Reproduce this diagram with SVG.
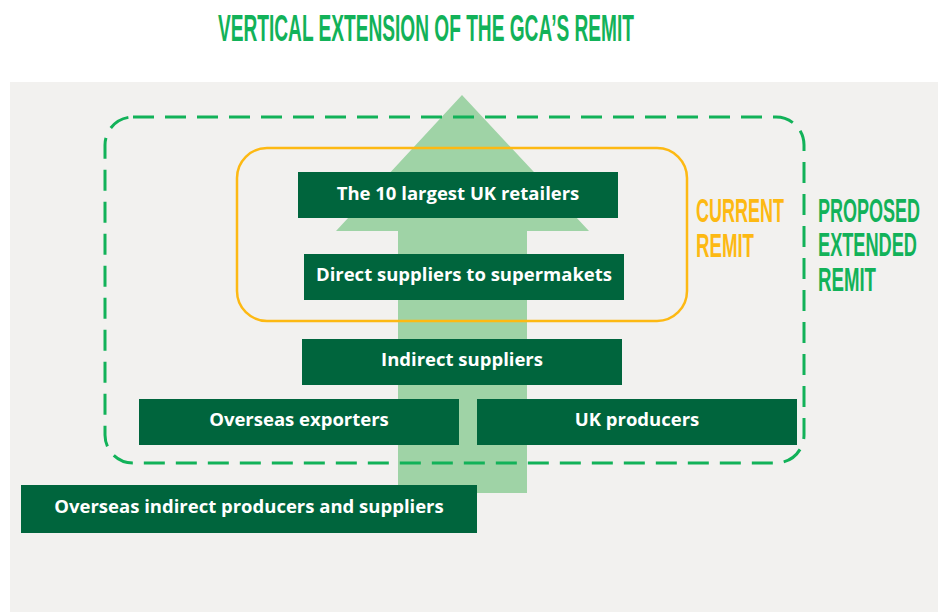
<svg xmlns="http://www.w3.org/2000/svg" width="942" height="612" viewBox="0 0 942 612">
  <style>
    .node rect { fill: #00653d; }
    .node text { fill: #ffffff; font-family: "Open Sans", "Noto Sans", sans-serif; font-weight: 700; font-size: 18.5px; text-anchor: middle; }
    .head { font-family: "Liberation Sans", "Roboto", sans-serif; font-weight: 700; }
    .cur { fill: #fdb913; font-size: 34px; }
    .prop { fill: #12b259; font-size: 34px; }
  </style>
  <rect width="942" height="612" fill="#ffffff"/>
  <!-- panel -->
  <rect x="10" y="82" width="928" height="530" fill="#f2f1ef"/>

  <!-- title -->
  <text class="head" x="218" y="41" font-size="36" fill="#12b259" textLength="416" lengthAdjust="spacingAndGlyphs">VERTICAL EXTENSION OF THE GCA’S REMIT</text>

  <!-- big upward arrow -->
  <polygon points="462,95 589,231 527,231 527,493 398,493 398,231 336,231" fill="#9fd3a6"/>

  <!-- remit outlines -->
  <g id="connectors">
    <rect x="105" y="117" width="699" height="346" rx="28" fill="none" stroke="#12b259" stroke-width="3" stroke-dasharray="21 11"/>
    <rect x="237" y="148" width="450" height="173" rx="30" fill="none" stroke="#fdb913" stroke-width="2.5"/>
  </g>

  <!-- remit labels -->
  <text class="head cur" x="696" y="222" textLength="88" lengthAdjust="spacingAndGlyphs">CURRENT</text>
  <text class="head cur" x="696" y="257" textLength="58" lengthAdjust="spacingAndGlyphs">REMIT</text>
  <text class="head prop" x="818" y="222" textLength="102" lengthAdjust="spacingAndGlyphs">PROPOSED</text>
  <text class="head prop" x="818" y="256" textLength="99" lengthAdjust="spacingAndGlyphs">EXTENDED</text>
  <text class="head prop" x="818" y="291" textLength="58" lengthAdjust="spacingAndGlyphs">REMIT</text>

  <!-- supply chain tiers -->
  <g id="retailers" class="node">
    <rect x="298" y="172" width="320" height="46"/>
    <text x="458" y="200">The 10 largest UK retailers</text>
  </g>
  <g id="direct-suppliers" class="node">
    <rect x="304" y="254" width="320" height="46"/>
    <text x="464" y="281">Direct suppliers to supermakets</text>
  </g>
  <g id="indirect-suppliers" class="node">
    <rect x="302" y="339" width="320" height="46"/>
    <text x="462" y="366">Indirect suppliers</text>
  </g>
  <g id="overseas-exporters" class="node">
    <rect x="139" y="399" width="320" height="46"/>
    <text x="299" y="426">Overseas exporters</text>
  </g>
  <g id="uk-producers" class="node">
    <rect x="477" y="399" width="320" height="46"/>
    <text x="637" y="426">UK producers</text>
  </g>
  <g id="overseas-indirect" class="node">
    <rect x="21" y="485" width="456" height="48"/>
    <text x="249" y="513">Overseas indirect producers and suppliers</text>
  </g>
</svg>
